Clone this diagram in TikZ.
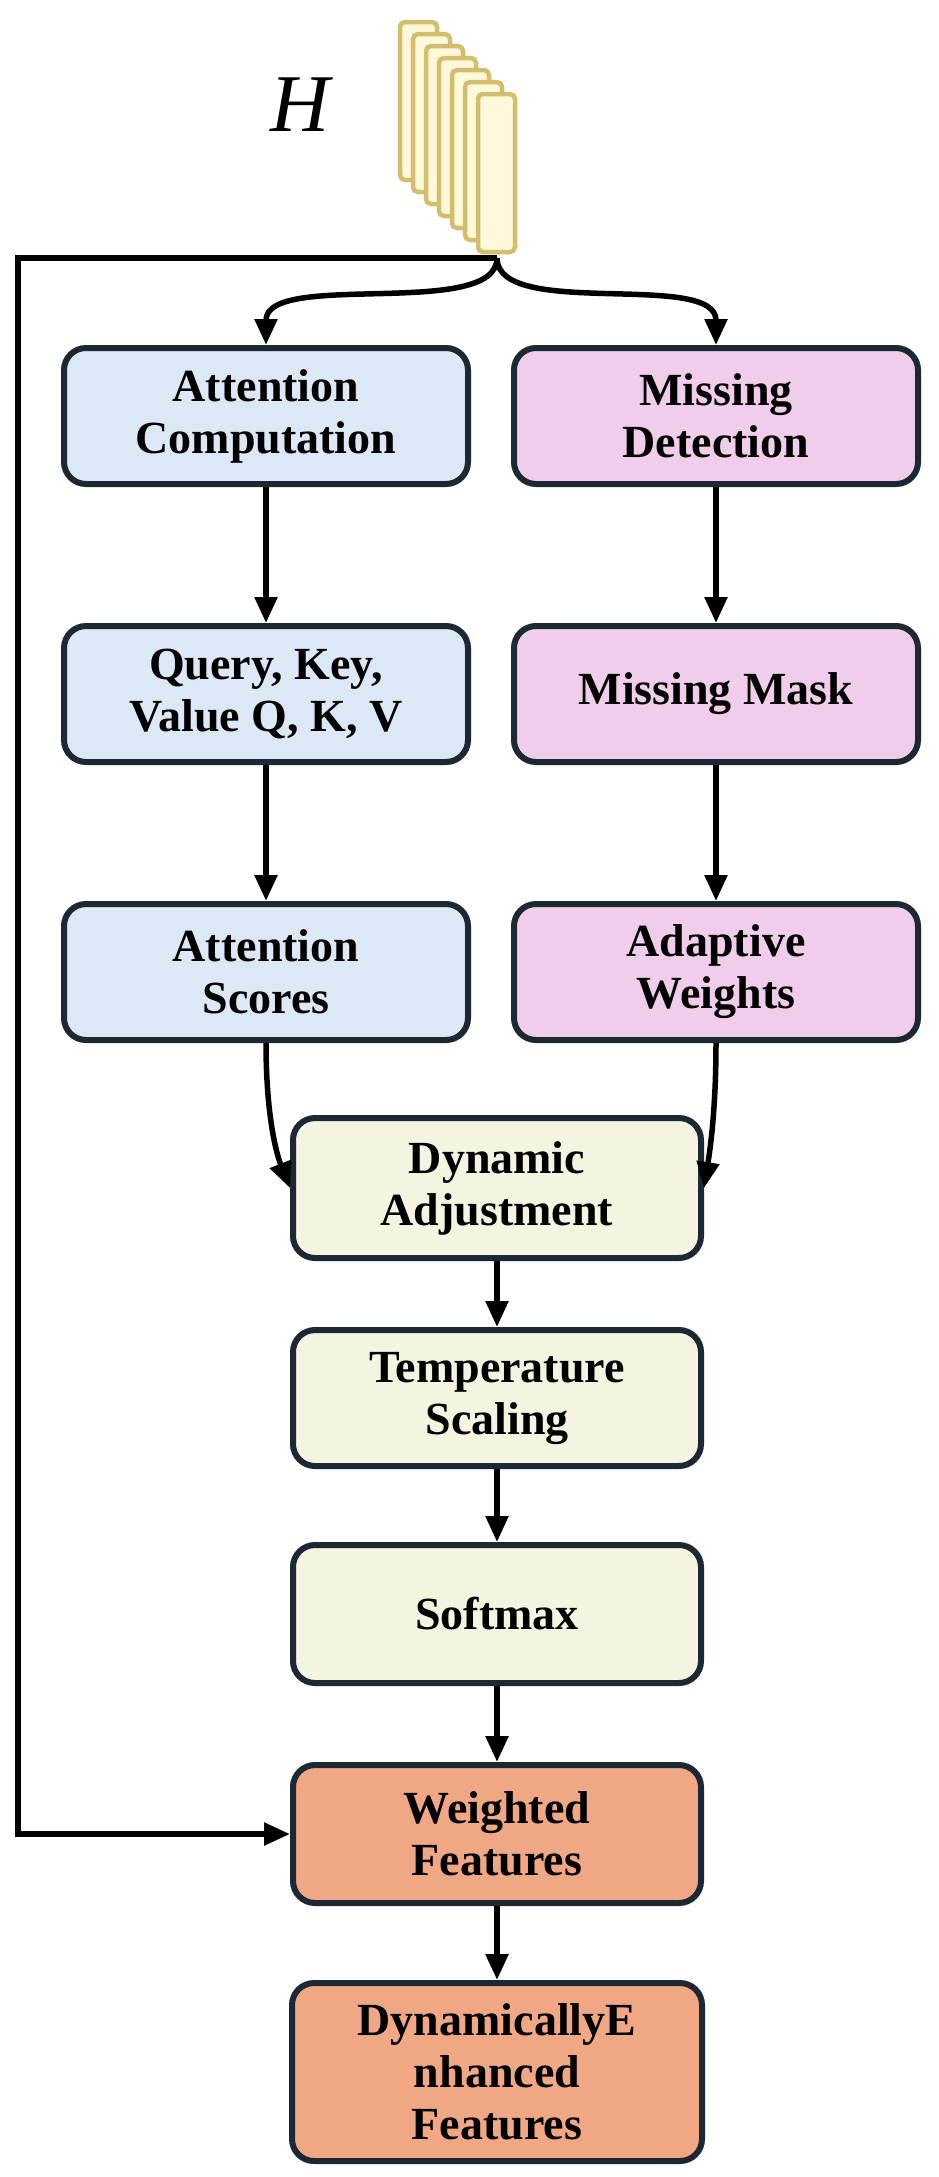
\documentclass[tikz,border=0pt]{standalone}
\usepackage{fontspec}
\setmainfont{Liberation Serif}
\usetikzlibrary{arrows.meta}
\definecolor{cblue}{HTML}{DCE8F5}
\definecolor{cpink}{HTML}{F0CDEA}
\definecolor{ccream}{HTML}{F4F4E0}
\definecolor{corange}{HTML}{EFA883}
\definecolor{cedge}{HTML}{1C2833}
\definecolor{cgold}{HTML}{D4BE6E}
\definecolor{cgoldf}{HTML}{FFF9DC}
\begin{document}
\begin{tikzpicture}[x=1pt,y=-1pt,
  box/.style={draw=cedge,line width=6pt,rounded corners=22pt,minimum width=404pt,minimum height=136pt,align=center,inner sep=0pt,
    font=\fontsize{46}{52}\selectfont\bfseries},
  arr/.style={line width=5.5pt,-{Triangle[length=26pt,width=22pt]}},
  slab/.style={draw=cgold,fill=cgoldf,line width=4.5pt,rounded corners=5pt}]
\useasboundingbox (0,0) rectangle (939,2177);
\foreach \i in {0,...,6}{
  \draw[slab] (400+13*\i,22+12*\i) rectangle (437+13*\i,180+12*\i);
}
\node[font=\fontsize{82}{84}\selectfont\itshape] (h) at (300,105) {H};
\coordinate (src) at (497,258);
\node[box,fill=cblue] (ac) at (266,416) {Attention\\Computation};
\node[box,fill=cpink] (md) at (716,416) {Missing\\Detection};
\node[box,fill=cblue] (qkv) at (266,694) {Query, Key,\\Value Q, K, V};
\node[box,fill=cpink] (mm) at (716,694) {Missing Mask};
\node[box,fill=ccream,minimum width=408pt,minimum height=140pt] (da) at (497,1188) {Dynamic\\Adjustment};
\node[box,fill=cblue] (as) at (266,972) {Attention\\Scores};
\node[box,fill=cpink] (aw) at (716,972) {Adaptive\\Weights};
\node[box,fill=ccream,minimum width=408pt,minimum height=136pt] (ts) at (497,1398) {Temperature\\Scaling};
\node[box,fill=ccream,minimum width=408pt,minimum height=138pt] (sm) at (497,1614) {Softmax};
\node[box,fill=corange,minimum width=408pt,minimum height=138pt] (wf) at (497,1834) {Weighted\\Features};
\node[box,fill=corange,minimum width=410pt,minimum height=178pt] (de) at (497,2072) {DynamicallyE\\nhanced\\Features};
\draw[arr] (src) .. controls (497,320) and (266,270) .. (ac.north);
\draw[arr] (src) .. controls (497,320) and (716,270) .. (md.north);
\draw[arr] (ac) -- (qkv);
\draw[arr] (md) -- (mm);
\draw[arr] (qkv) -- (as);
\draw[arr] (mm) -- (aw);
\draw[arr] (as.south) .. controls (266,1110) and (275,1150) .. (da.west);
\draw[arr] (aw.south) .. controls (716,1110) and (710,1150) .. (da.east);
\draw[arr] (da) -- (ts);
\draw[arr] (ts) -- (sm);
\draw[arr] (sm) -- (wf);
\draw[arr] (wf) -- (de);
\draw[arr] (src) -- (18,258) |- (wf.west);
\end{tikzpicture}
\end{document}
